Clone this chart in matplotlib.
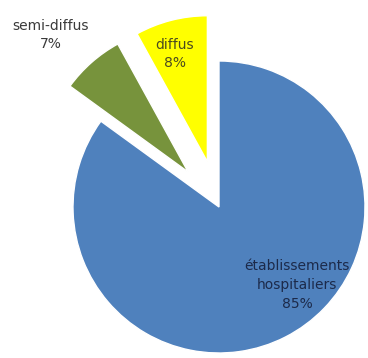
import numpy as np
import matplotlib
matplotlib.use("Agg")
import matplotlib.pyplot as plt

# Data
names = ["établissements\nhospitaliers", "semi-diffus", "diffus"]
shares = [85, 7, 8]
colors = ["#4F81BD", "#77933C", "#FFFF00"]
explode = [0.0, 0.32, 0.32]

# label positions (in radius units, centre of pie = 0,0)
label_xy = [(0.534, -0.534), (-1.151, 1.178), (-0.301, 1.048)]
label_colors = ["#1c2a4a", "#3a3a3a", "#4a4a20"]

fig = plt.figure(figsize=(3.68, 3.58), dpi=100)
ax = fig.add_axes([0, 0, 1, 1])

ax.pie(shares, colors=colors, explode=explode, startangle=90,
       counterclock=False, radius=1.0,
       wedgeprops=dict(edgecolor="white", linewidth=1.0))

for name, val, (x, y), c in zip(names, shares, label_xy, label_colors):
    ax.text(x, y, "%s\n%d%%" % (name, val), ha="center", va="center",
            fontsize=10, color=c, linespacing=1.45, family="DejaVu Sans")

# pie centre sits at pixel (219, 207), radius 146 px
ax.set_xlim(-219 / 146, (368 - 219) / 146)
ax.set_ylim(-(358 - 207) / 146, 207 / 146)
ax.set_aspect("equal")
ax.axis("off")

fig.savefig("out.png", dpi=100)
